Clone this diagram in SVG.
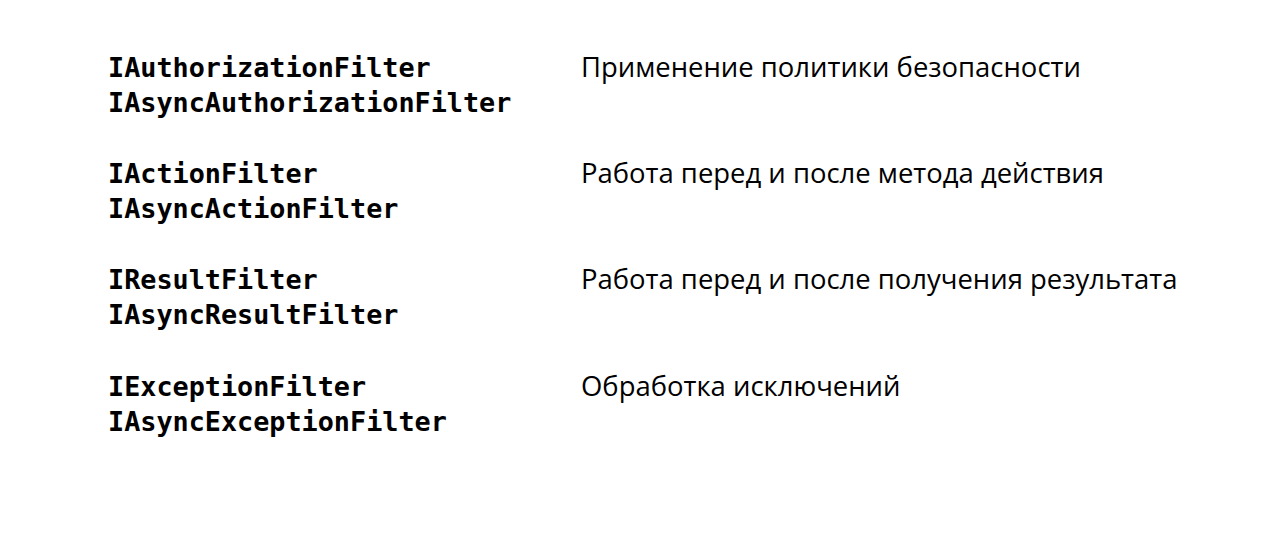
<svg xmlns="http://www.w3.org/2000/svg" width="1274" height="543" viewBox="0 0 1274 543">
<style>
.code{font-family:"DejaVu Sans Mono","Liberation Mono",monospace;font-weight:bold;font-size:26.8px;fill:#000}
.desc{font-family:"Open Sans","Noto Sans",sans-serif;font-size:27.45px;fill:#000}
</style>
<rect width="1274" height="543" fill="#fff"/>
<g id="authorization">
<text class="code" x="108" y="77">IAuthorizationFilter</text>
<text class="code" x="108" y="112">IAsyncAuthorizationFilter</text>
<text class="desc" x="581" y="77">Применение политики безопасности</text>
</g>
<g id="action">
<text class="code" x="108" y="183">IActionFilter</text>
<text class="code" x="108" y="218">IAsyncActionFilter</text>
<text class="desc" x="581" y="183">Работа перед и после метода действия</text>
</g>
<g id="result">
<text class="code" x="108" y="289">IResultFilter</text>
<text class="code" x="108" y="324">IAsyncResultFilter</text>
<text class="desc" x="581" y="289">Работа перед и после получения результата</text>
</g>
<g id="exception">
<text class="code" x="108" y="396">IExceptionFilter</text>
<text class="code" x="108" y="431">IAsyncExceptionFilter</text>
<text class="desc" x="581" y="396">Обработка исключений</text>
</g>
<g id="connectors"/>
</svg>
